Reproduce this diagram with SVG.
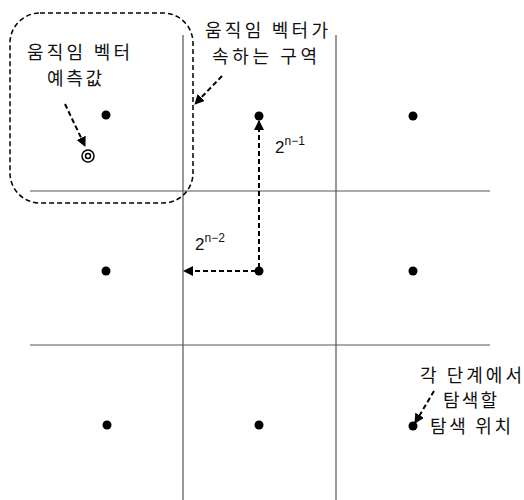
<svg xmlns="http://www.w3.org/2000/svg" width="524" height="500" viewBox="0 0 524 500">
<style>
.grid{stroke:#555;stroke-width:1.2;fill:none}
.dash{stroke:#000;stroke-width:2;stroke-dasharray:5 3;fill:none}
.pt{fill:#000}
text{font-family:"Noto Sans CJK KR","Liberation Sans",sans-serif;font-size:18px;fill:#111}
.sup{font-family:"Liberation Sans",sans-serif;font-size:17px}
</style>
<defs>
<marker id="ah" viewBox="0 0 10 10" refX="9" refY="5" markerWidth="5" markerHeight="5" orient="auto">
<path d="M0,0 L10,5 L0,10 Z" fill="#000"/>
</marker>
</defs>
<rect width="524" height="500" fill="#fff"/>
<g id="grid">
<line class="grid" x1="183" y1="35" x2="183" y2="500"/>
<line class="grid" x1="336" y1="35" x2="336" y2="500"/>
<line class="grid" x1="30" y1="191" x2="490" y2="191"/>
<line class="grid" x1="30" y1="345" x2="490" y2="345"/>
</g>
<g id="region">
<rect x="10" y="13" width="183" height="190" rx="30" ry="30" fill="none" stroke="#000" stroke-width="1.5" stroke-dasharray="5 3"/>
</g>
<g id="points">
<circle class="pt" cx="106" cy="115" r="4.5"/>
<circle class="pt" cx="259" cy="116" r="4.5"/>
<circle class="pt" cx="413" cy="116" r="4.5"/>
<circle class="pt" cx="106" cy="271" r="4.5"/>
<circle class="pt" cx="259" cy="271" r="4.5"/>
<circle class="pt" cx="413" cy="271" r="4.5"/>
<circle class="pt" cx="107" cy="425" r="4.5"/>
<circle class="pt" cx="259" cy="425" r="4.5"/>
<circle class="pt" cx="413" cy="426" r="4.5"/>
</g>
<g id="predictor">
<circle cx="88" cy="156" r="6" fill="none" stroke="#000" stroke-width="1.5"/>
<circle cx="88" cy="156" r="2.5" fill="none" stroke="#000" stroke-width="1.5"/>
</g>
<g id="connectors">
<line class="dash" x1="65" y1="104" x2="85" y2="146" marker-end="url(#ah)"/>
<line class="dash" x1="222" y1="76" x2="195" y2="104" marker-end="url(#ah)"/>
<line class="dash" x1="259" y1="268" x2="259" y2="121" marker-end="url(#ah)"/>
<line class="dash" x1="256" y1="271" x2="184" y2="271" marker-end="url(#ah)"/>
<line class="dash" x1="434" y1="391" x2="415" y2="423" marker-end="url(#ah)"/>
</g>
<g id="labels">
<text x="27" y="59" textLength="103" lengthAdjust="spacing">움직임 벡터</text>
<text x="47" y="85" textLength="55" lengthAdjust="spacing">예측값</text>
<text x="205" y="37" textLength="123" lengthAdjust="spacing">움직임 벡터가</text>
<text x="212" y="63" textLength="105" lengthAdjust="spacing">속하는 구역</text>
<text x="275" y="153" class="sup">2<tspan font-size="12" dy="-8">n−1</tspan></text>
<text x="195" y="250" class="sup">2<tspan font-size="12" dy="-8">n−2</tspan></text>
<text x="420" y="382" textLength="102" lengthAdjust="spacing">각 단계에서</text>
<text x="443" y="407" textLength="54" lengthAdjust="spacing">탐색할</text>
<text x="430" y="433" textLength="81" lengthAdjust="spacing">탐색 위치</text>
</g>
</svg>
